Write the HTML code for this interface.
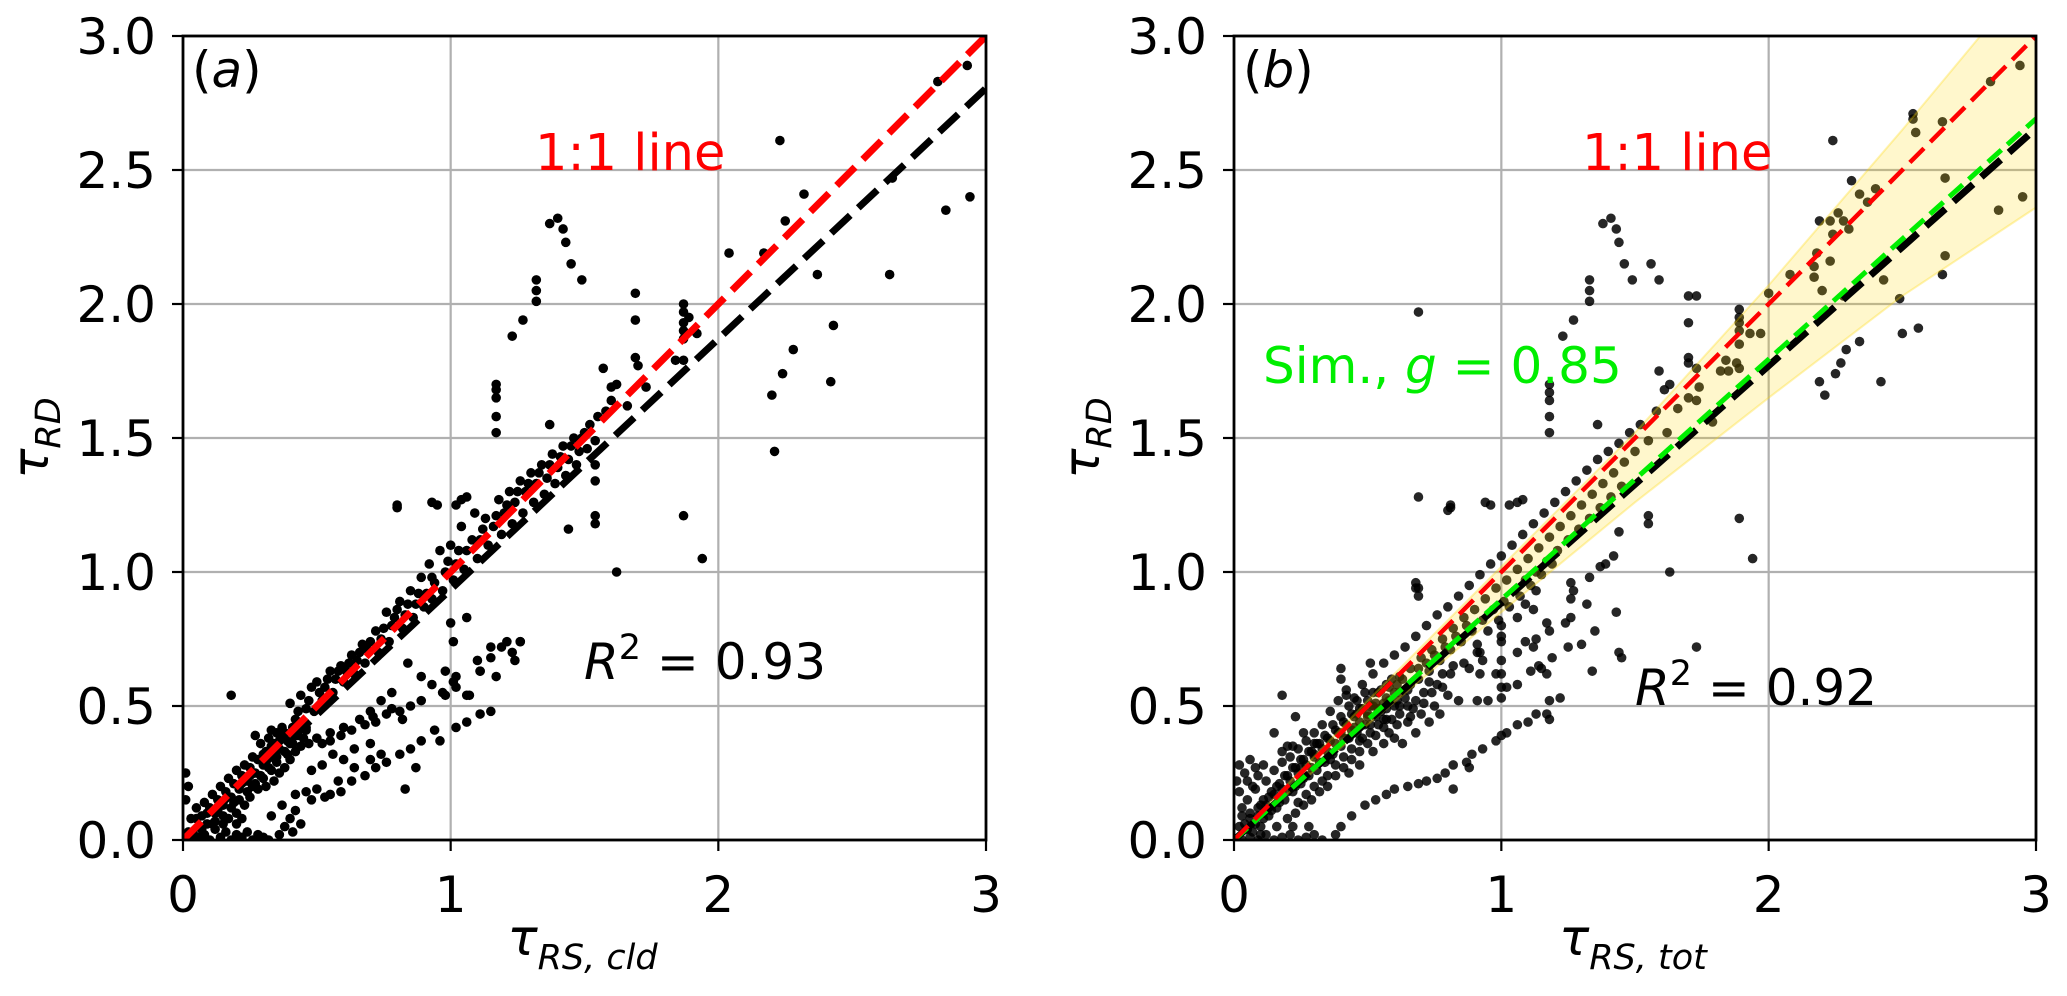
<!DOCTYPE html>
<html><head><meta charset="utf-8">
<style>
html,body{margin:0;padding:0;background:#fff;}
svg{display:block;font-family:"DejaVu Sans","Liberation Sans",sans-serif;}
</style></head>
<body>
<svg id="fig" width="2067" height="996" viewBox="0 0 2067 996" xmlns="http://www.w3.org/2000/svg"></svg>
<script>
// ---------- data ----------
const xTicks = [0, 1, 2, 3];
const yTicks = [0.0, 0.5, 1.0, 1.5, 2.0, 2.5, 3.0];
const xTickLabels = ["0", "1", "2", "3"];
const yTickLabels = ["0.0", "0.5", "1.0", "1.5", "2.0", "2.5", "3.0"];
const fitSlopeA = 0.935;
const fitSlopeB = 0.885;
const simSlopeB = 0.897;
const bandX = [0, 0.5, 1, 1.5, 2, 2.5, 3];
const bandLo = [0, 0.43, 0.85, 1.26, 1.65, 2.03, 2.36];
const bandHi = [0, 0.52, 1.02, 1.52, 2.07, 2.65, 3.25];

const outliersA = [[2.93,2.89],[2.82,2.83],[2.23,2.61],[2.65,2.47],[2.32,2.41],[2.25,2.31],[2.94,2.40],[2.85,2.35],[2.04,2.19],[2.17,2.19],[2.37,2.11],[2.64,2.11],[2.43,1.92],[2.28,1.83],[2.24,1.74],[2.42,1.71],[2.20,1.66],[2.21,1.45],[1.37,2.30],[1.40,2.32],[1.42,2.28],[1.43,2.23],[1.45,2.15],[1.49,2.09],[1.32,2.09],[1.32,2.05],[1.32,2.01],[1.27,1.94],[1.23,1.88],[1.69,2.04],[1.69,1.94],[1.69,1.80],[1.70,1.77],[1.57,1.76],[1.62,1.70],[1.60,1.69],[1.73,1.69],[1.66,1.62],[1.37,1.55],[1.17,1.70],[1.17,1.68],[1.17,1.65],[1.17,1.58],[1.17,1.52],[1.87,2.00],[1.87,1.97],[1.87,1.93],[1.87,1.90],[1.87,1.87],[1.89,1.95],[1.92,1.89],[1.84,1.79],[1.87,1.79],[1.44,1.16],[1.54,1.21],[1.54,1.18],[1.54,1.40],[1.54,1.34],[1.87,1.21],[1.94,1.05],[1.62,1.00],[0.80,1.25],[0.80,1.24],[0.93,1.26],[0.95,1.25],[1.02,1.25],[1.06,1.28],[1.04,1.27],[1.00,0.81],[1.06,0.83],[1.01,0.74],[1.21,0.74],[1.26,0.74],[1.15,0.72],[1.23,0.70],[0.84,0.66],[0.89,0.61],[1.10,0.67],[1.11,0.63],[1.17,0.61],[1.02,0.61],[1.01,0.59],[0.97,0.55],[1.07,0.54],[0.18,0.54]];
const bandPtsA = [[0.02,0.03],[0.03,0.08],[0.04,0.02],[0.05,0.12],[0.06,0.05],[0.07,0.09],[0.08,0.14],[0.09,0.06],[0.10,0.12],[0.11,0.17],[0.12,0.10],[0.13,0.15],[0.14,0.20],[0.15,0.13],[0.16,0.18],[0.17,0.23],[0.18,0.16],[0.19,0.21],[0.20,0.26],[0.21,0.19],[0.22,0.24],[0.23,0.28],[0.24,0.22],[0.25,0.27],[0.26,0.31],[0.27,0.25],[0.28,0.30],[0.29,0.36],[0.30,0.28],[0.31,0.33],[0.32,0.38],[0.33,0.31],[0.34,0.36],[0.35,0.40],[0.36,0.34],[0.37,0.39],[0.38,0.40],[0.39,0.37],[0.40,0.51],[0.41,0.42],[0.42,0.45],[0.44,0.54],[0.45,0.44],[0.46,0.49],[0.48,0.57],[0.49,0.48],[0.50,0.59],[0.52,0.52],[0.53,0.57],[0.55,0.63],[0.56,0.55],[0.57,0.60],[0.59,0.65],[0.60,0.59],[0.61,0.63],[0.63,0.69],[0.64,0.62],[0.65,0.67],[0.67,0.73],[0.68,0.66],[0.69,0.71],[0.72,0.78],[0.73,0.70],[0.74,0.75],[0.76,0.85],[0.77,0.74],[0.78,0.80],[0.80,0.86],[0.81,0.89],[0.82,0.79],[0.83,0.84],[0.85,0.93],[0.86,0.83],[0.87,0.88],[0.89,0.98],[0.90,0.87],[0.91,0.92],[0.92,1.03],[0.93,0.90],[0.94,0.96],[0.96,1.08],[0.97,0.93],[0.98,1.00],[1.00,1.10],[1.01,0.97],[1.02,1.03],[1.04,1.17],[1.05,1.01],[1.06,1.08],[1.09,1.22],[1.10,1.05],[1.11,1.12],[1.13,1.20],[1.14,1.10],[1.16,1.17],[1.18,1.27],[1.19,1.14],[1.20,1.22],[1.22,1.30],[1.23,1.18],[1.24,1.26],[1.26,1.34],[1.27,1.22],[1.28,1.30],[1.30,1.37],[1.31,1.26],[1.32,1.33],[1.34,1.40],[1.35,1.29],[1.36,1.35],[1.38,1.44],[1.39,1.33],[1.40,1.39],[1.42,1.47],[1.43,1.36],[1.44,1.42],[1.46,1.50],[1.47,1.40],[1.48,1.45],[1.50,1.52],[1.51,1.46],[1.52,1.55],[1.54,1.49],[1.55,1.58],[1.58,1.60],[1.60,1.64],[0.01,0.25],[0.02,0.20],[0.01,0.15],[0.03,0.00],[0.06,0.01],[0.08,0.02],[0.10,0.00],[0.12,0.04],[0.14,0.01],[0.16,0.03],[0.18,0.00],[0.20,0.02],[0.22,0.01],[0.24,0.03],[0.26,0.00],[0.28,0.02],[0.30,0.01],[0.32,0.00],[0.17,0.08],[0.20,0.10],[0.23,0.13],[0.19,0.14],[0.25,0.16],[0.28,0.19],[0.31,0.20],[0.34,0.22],[0.36,0.25],[0.38,0.27],[0.40,0.30],[0.42,0.33],[0.27,0.21],[0.30,0.23],[0.33,0.26],[0.35,0.29],[0.39,0.32],[0.44,0.35],[0.47,0.36],[0.20,0.06],[0.22,0.08],[0.15,0.06],[0.12,0.07]];
const extraA = [[0.05,0.08],[0.07,0.04],[0.09,0.10],[0.11,0.06],[0.13,0.11],[0.15,0.09],[0.18,0.12],[0.21,0.15],[0.24,0.18],[0.26,0.20],[0.29,0.24],[0.32,0.27],[0.35,0.31],[0.38,0.33],[0.41,0.36],[0.43,0.39],[0.46,0.42],[0.36,0.37],[0.33,0.35],[0.30,0.32],[0.43,0.48],[0.47,0.52],[0.51,0.55],[0.54,0.60],[0.58,0.63],[0.62,0.66],[0.66,0.70],[0.70,0.74],[0.75,0.79],[0.79,0.83],[0.84,0.88],[0.88,0.92],[0.93,0.98],[0.99,1.04],[1.03,1.08],[1.08,1.12],[1.12,1.16],[1.17,1.21],[1.21,1.25],[1.25,1.30],[1.29,1.33],[1.33,1.37],[1.37,1.40],[1.41,1.43],[1.45,1.47],[1.49,1.50],[0.55,0.40],[0.60,0.42],[0.66,0.45],[0.71,0.46],[0.78,0.49],[0.52,0.36],[0.45,0.38],[0.40,0.36],[0.64,0.27],[0.70,0.30],[0.74,0.32],[0.58,0.22],[0.48,0.15],[0.53,0.16],[0.40,0.08],[0.42,0.11]];
const branchA = [[0.27,0.39],[0.33,0.41],[0.37,0.42],[0.42,0.39],[0.46,0.41],[0.50,0.38],[0.55,0.37],[0.59,0.39],[0.63,0.41],[0.68,0.43],[0.72,0.44],[0.76,0.47],[0.81,0.48],[0.85,0.50],[0.89,0.52],[0.94,0.41],[0.98,0.54],[1.02,0.57],[1.06,0.54],[1.11,0.63],[1.15,0.68],[1.19,0.72],[1.24,0.67],[1.26,0.74],[0.33,0.09],[0.37,0.13],[0.42,0.17],[0.46,0.18],[0.50,0.19],[0.55,0.17],[0.59,0.18],[0.63,0.22],[0.68,0.24],[0.72,0.27],[0.76,0.29],[0.81,0.32],[0.85,0.34],[0.89,0.37],[0.96,0.37],[1.02,0.42],[1.06,0.44],[1.11,0.47],[1.15,0.48],[0.83,0.19],[0.87,0.27],[0.38,0.05],[0.41,0.03],[0.44,0.06],[0.36,0.02],[0.60,0.30],[0.64,0.34],[0.70,0.36],[0.52,0.28],[0.56,0.32],[0.48,0.26],[0.74,0.52],[0.78,0.55],[0.70,0.48],[0.82,0.45],[0.93,0.58],[0.98,0.63]];
const outliersB = [[2.94,2.89],[2.83,2.83],[2.54,2.71],[2.54,2.69],[2.65,2.68],[2.55,2.64],[2.24,2.61],[2.31,2.46],[2.66,2.47],[2.40,2.43],[2.34,2.41],[2.37,2.38],[2.19,2.31],[2.23,2.31],[2.26,2.34],[2.28,2.31],[2.30,2.28],[2.95,2.40],[2.86,2.35],[2.24,2.26],[2.18,2.19],[2.17,2.14],[2.17,2.10],[2.23,2.16],[2.66,2.18],[2.65,2.11],[2.43,2.09],[2.08,2.11],[2.20,2.05],[2.28,2.03],[2.49,2.02],[2.00,2.04],[1.56,2.15],[1.59,2.09],[1.70,2.03],[1.73,2.03],[1.70,1.93],[1.89,1.98],[1.89,1.95],[1.89,1.93],[1.89,1.90],[1.89,1.85],[1.93,1.89],[1.97,1.89],[1.70,1.80],[1.70,1.78],[1.84,1.79],[1.88,1.78],[1.82,1.75],[1.85,1.75],[1.89,1.76],[2.50,1.89],[2.56,1.91],[2.34,1.86],[2.29,1.83],[2.27,1.78],[2.25,1.74],[2.19,1.71],[2.21,1.66],[2.42,1.71],[1.59,1.75],[1.63,1.70],[1.61,1.68],[1.73,1.76],[1.74,1.69],[1.70,1.65],[1.73,1.64],[1.66,1.61],[1.79,1.56],[0.69,1.97],[0.69,1.28],[0.81,1.25],[0.81,1.24],[0.94,1.26],[0.96,1.25],[1.03,1.25],[1.06,1.26],[1.08,1.27],[0.69,0.94],[0.69,0.91],[0.51,0.66],[0.40,0.64],[0.40,0.60],[0.42,0.54],[1.18,1.70],[1.18,1.67],[1.18,1.64],[1.18,1.58],[1.18,1.52],[1.27,1.94],[1.23,1.88],[1.33,2.09],[1.33,2.05],[1.33,2.01],[1.36,1.55],[1.38,2.30],[1.41,2.32],[1.43,2.28],[1.44,2.23],[1.46,2.15],[1.49,2.09],[0.80,1.23],[0.68,0.96],[0.68,0.94],[1.55,1.21],[1.55,1.18],[1.44,1.15],[1.89,1.20],[1.94,1.05],[1.63,1.00],[1.42,1.06],[1.39,1.03],[1.37,1.02],[1.33,0.98],[1.26,0.96],[1.27,0.93],[1.13,0.93],[1.09,0.88],[1.26,0.90],[1.32,0.88],[1.12,0.86],[1.06,0.83],[1.43,0.85],[1.17,0.81],[1.24,0.81],[1.26,0.83],[1.35,0.78],[1.18,0.78],[1.13,0.75],[1.09,0.74],[1.12,0.72],[1.00,0.80],[1.00,0.76],[1.00,0.74],[0.91,0.73],[0.92,0.70],[1.06,0.70],[1.14,0.65],[1.19,0.68],[1.25,0.72],[1.30,0.73],[1.44,0.70],[1.45,0.68],[1.73,0.72],[1.34,0.63],[1.17,0.62],[1.11,0.63],[1.15,0.64],[1.00,0.67],[1.00,0.62],[1.00,0.57],[1.00,0.53],[1.06,0.58],[1.02,0.57],[0.98,0.62],[0.92,0.62],[0.88,0.64],[0.93,0.67],[0.78,0.62],[0.82,0.65],[1.22,0.53],[1.18,0.52],[0.84,0.52],[0.91,0.52],[0.95,0.52],[0.78,0.57],[0.73,0.59],[0.80,0.54],[1.18,0.45],[1.17,0.47],[1.13,0.47],[1.10,0.44],[1.06,0.43],[1.02,0.40],[1.00,0.39],[0.98,0.37],[0.93,0.34],[0.89,0.32],[0.87,0.29],[0.82,0.28],[0.79,0.25],[0.76,0.23],[0.72,0.22],[0.69,0.21],[0.65,0.20],[0.60,0.19],[0.57,0.17],[0.53,0.15],[0.49,0.13],[0.44,0.09],[0.40,0.05],[0.38,0.02],[0.88,0.27],[0.82,0.19],[0.18,0.54],[0.23,0.46],[0.15,0.40],[0.20,0.35]];
const densePtsB = [[0.01,0.22],[0.02,0.18],[0.03,0.12],[0.04,0.06],[0.05,0.15],[0.06,0.10],[0.07,0.03],[0.08,0.19],[0.09,0.12],[0.10,0.05],[0.11,0.15],[0.12,0.22],[0.13,0.09],[0.14,0.18],[0.15,0.26],[0.16,0.12],[0.17,0.21],[0.18,0.29],[0.19,0.15],[0.20,0.24],[0.21,0.31],[0.22,0.18],[0.23,0.27],[0.24,0.34],[0.25,0.21],[0.26,0.30],[0.27,0.37],[0.28,0.24],[0.29,0.33],[0.30,0.40],[0.31,0.26],[0.32,0.36],[0.33,0.43],[0.34,0.29],[0.35,0.38],[0.36,0.48],[0.37,0.32],[0.38,0.41],[0.39,0.52],[0.40,0.35],[0.41,0.44],[0.42,0.56],[0.43,0.38],[0.44,0.47],[0.45,0.53],[0.46,0.40],[0.47,0.49],[0.48,0.58],[0.49,0.43],[0.50,0.52],[0.52,0.62],[0.53,0.46],[0.54,0.55],[0.56,0.66],[0.57,0.49],[0.58,0.57],[0.60,0.69],[0.61,0.52],[0.62,0.61],[0.64,0.72],[0.65,0.56],[0.66,0.64],[0.68,0.76],[0.69,0.60],[0.70,0.68],[0.72,0.80],[0.73,0.63],[0.74,0.71],[0.76,0.84],[0.77,0.67],[0.78,0.75],[0.80,0.87],[0.81,0.71],[0.82,0.79],[0.84,0.91],[0.85,0.74],[0.86,0.83],[0.88,0.95],[0.89,0.78],[0.90,0.86],[0.92,0.99],[0.93,0.82],[0.94,0.90],[0.96,1.03],[0.97,0.86],[0.98,0.94],[1.00,1.06],[1.01,0.89],[1.02,0.97],[1.04,1.10],[1.05,0.93],[1.06,1.01],[1.08,1.14],[1.09,0.97],[1.10,1.05],[1.12,1.18],[1.13,1.00],[1.14,1.09],[1.16,1.22],[1.17,1.04],[1.18,1.13],[1.20,1.26],[1.21,1.08],[1.22,1.17],[1.24,1.30],[1.25,1.12],[1.26,1.21],[1.28,1.34],[1.29,1.16],[1.30,1.25],[1.32,1.38],[1.33,1.20],[1.34,1.29],[1.36,1.42],[1.37,1.24],[1.38,1.33],[1.40,1.45],[1.41,1.28],[1.42,1.37],[1.44,1.48],[1.45,1.32],[1.46,1.41],[1.48,1.52],[1.50,1.45],[1.52,1.55],[1.55,1.49],[1.58,1.60],[1.62,1.52],[0.03,0.00],[0.06,0.01],[0.09,0.00],[0.12,0.02],[0.15,0.00],[0.18,0.01],[0.21,0.02],[0.24,0.00],[0.27,0.01],[0.30,0.02],[0.33,0.00],[0.20,0.08],[0.23,0.10],[0.26,0.13],[0.29,0.15],[0.32,0.18],[0.35,0.20],[0.38,0.24],[0.41,0.27],[0.44,0.30],[0.47,0.33],[0.50,0.36],[0.53,0.39],[0.56,0.42],[0.59,0.45],[0.62,0.47],[0.65,0.50],[0.68,0.52],[0.71,0.55],[0.45,0.42],[0.50,0.46],[0.55,0.48],[0.60,0.50],[0.65,0.44],[0.70,0.47],[0.75,0.50],[0.40,0.40],[0.48,0.38],[0.58,0.40],[0.63,0.36],[0.68,0.40],[0.52,0.50],[0.57,0.53],[0.62,0.55],[0.43,0.25],[0.47,0.28],[0.36,0.30],[0.30,0.32],[0.25,0.27],[0.02,0.28],[0.04,0.25],[0.06,0.30],[0.08,0.27]];
const extraB = [[0.02,0.05],[0.03,0.09],[0.05,0.04],[0.06,0.08],[0.08,0.06],[0.09,0.09],[0.10,0.13],[0.11,0.08],[0.12,0.13],[0.13,0.16],[0.14,0.11],[0.15,0.17],[0.16,0.20],[0.17,0.14],[0.18,0.19],[0.19,0.24],[0.20,0.18],[0.21,0.22],[0.22,0.27],[0.23,0.20],[0.24,0.25],[0.25,0.30],[0.26,0.23],[0.27,0.28],[0.28,0.33],[0.29,0.27],[0.30,0.31],[0.31,0.36],[0.32,0.29],[0.33,0.34],[0.34,0.39],[0.35,0.33],[0.36,0.37],[0.37,0.43],[0.38,0.36],[0.39,0.40],[0.40,0.46],[0.41,0.38],[0.42,0.43],[0.43,0.50],[0.44,0.41],[0.45,0.46],[0.46,0.52],[0.47,0.44],[0.48,0.49],[0.49,0.55],[0.50,0.47],[0.51,0.50],[0.52,0.55],[0.53,0.51],[0.54,0.49],[0.55,0.56],[0.56,0.51],[0.57,0.58],[0.58,0.52],[0.59,0.60],[0.60,0.55],[0.61,0.58],[0.62,0.50],[0.63,0.60],[0.64,0.53],[0.66,0.58],[0.67,0.49],[0.69,0.64],[0.71,0.51],[0.72,0.66],[0.74,0.55],[0.75,0.69],[0.76,0.58],[0.79,0.72],[0.81,0.62],[0.83,0.76],[0.86,0.66],[0.87,0.80],[0.91,0.70],[0.95,0.78],[0.99,0.82],[1.03,0.87],[1.07,0.91],[1.11,0.95],[1.15,0.99],[1.19,1.03],[0.35,0.24],[0.38,0.28],[0.41,0.31],[0.44,0.34],[0.47,0.37],[0.51,0.40],[0.54,0.43],[0.57,0.45],[0.46,0.47],[0.51,0.43],[0.56,0.45],[0.61,0.43],[0.66,0.46],[0.73,0.44],[0.77,0.47],[0.52,0.33],[0.56,0.36],[0.60,0.38],[0.30,0.36],[0.26,0.40],[0.22,0.35],[0.18,0.33],[0.24,0.14],[0.27,0.17],[0.30,0.20],[0.33,0.22],[0.07,0.20],[0.09,0.24],[0.11,0.28],[0.05,0.22],[0.10,0.02],[0.16,0.05],[0.22,0.05],[0.28,0.05]];

// ---------- layout ----------
const AX = {y0:840, y3:36};
const panels = [
  {id:'a', x0:183, x3:986, xlabelSub:'RS, cld', pts:[outliersA, bandPtsA, extraA, branchA], r2:'0.93', r2x:584, r2y:679, lineX:535, pointOpacity:1},
  {id:'b', x0:1234, x3:2036, xlabelSub:'RS, tot', pts:[outliersB, densePtsB, extraB], r2:'0.92', r2x:1635, r2y:705, lineX:1582, pointOpacity:0.85}
];
const NS = 'http://www.w3.org/2000/svg';
const svg = document.getElementById('fig');
function mk(tag, attrs, parent){
  const e = document.createElementNS(NS, tag);
  for (const k in attrs) e.setAttribute(k, attrs[k]);
  (parent||svg).appendChild(e);
  return e;
}
const FS = 50;

panels.forEach(p => {
  const sx = v => p.x0 + (p.x3 - p.x0) * v / 3;
  const sy = v => AX.y0 - (AX.y0 - AX.y3) * v / 3;
  const g = mk('g', {});
  
  
  const clipId = 'clip-' + p.id;
  const cp = mk('clipPath', {id: clipId}, g);
  mk('rect', {x:p.x0, y:AX.y3, width:p.x3-p.x0, height:AX.y0-AX.y3}, cp);

  xTicks.forEach(t => {
    const l = mk('line', {x1:sx(t), x2:sx(t), y1:AX.y3, y2:AX.y0, stroke:'#b0b0b0', 'stroke-width':2.2}, g);
    
    
  });
  yTicks.forEach(t => {
    const l = mk('line', {x1:p.x0, x2:p.x3, y1:sy(t), y2:sy(t), stroke:'#b0b0b0', 'stroke-width':2.2}, g);
    
    
  });

  const plot = mk('g', {'clip-path': 'url(#' + clipId + ')'}, g);
  const pg = mk('g', {fill:'#000', 'fill-opacity':p.pointOpacity}, plot);
  
  
  p.pts.forEach(arr => arr.forEach(d => {
    const c = mk('circle', {cx:sx(d[0]), cy:sy(d[1]), r:4.8}, pg);
    
    
  }));

  if (p.id === 'a') {
    const fit = mk('line', {x1:sx(0), y1:sy(0), x2:sx(3), y2:sy(3*fitSlopeA), stroke:'#000', 'stroke-width':7, 'stroke-dasharray':'26 11'}, plot);
    
    
    const one = mk('line', {x1:sx(0), y1:sy(0), x2:sx(3), y2:sy(3), stroke:'#ff0000', 'stroke-width':7, 'stroke-dasharray':'26 11'}, plot);
    
    
  } else {
    let d = 'M' + bandX.map((x,i) => sx(x) + ',' + sy(bandHi[i])).join(' L');
    d += ' L' + bandX.slice().reverse().map((x,i) => sx(x) + ',' + sy(bandLo[bandX.length-1-i])).join(' L') + ' Z';
    const band = mk('path', {d:d, fill:'rgba(255,215,0,0.2)', stroke:'rgba(255,215,0,0.3)', 'stroke-width':2}, plot);
    
    
    const fit = mk('line', {x1:sx(0), y1:sy(0), x2:sx(3), y2:sy(3*fitSlopeB), stroke:'#000', 'stroke-width':7, 'stroke-dasharray':'26 11'}, plot);
    
    
    const sim = mk('line', {x1:sx(0), y1:sy(0), x2:sx(3), y2:sy(3*simSlopeB), stroke:'#00ee00', 'stroke-width':5, 'stroke-dasharray':'18 8'}, plot);
    
    
    const one = mk('line', {x1:sx(0), y1:sy(0), x2:sx(3), y2:sy(3), stroke:'#ff0000', 'stroke-width':4.5, 'stroke-dasharray':'20 9'}, plot);
    
    
  }

  const sp = mk('rect', {x:p.x0, y:AX.y3, width:p.x3-p.x0, height:AX.y0-AX.y3, fill:'none', stroke:'#000', 'stroke-width':2.8}, g);
  
  

  xTicks.forEach((t,i) => {
    const tk = mk('line', {x1:sx(t), x2:sx(t), y1:AX.y0, y2:AX.y0+11, stroke:'#000', 'stroke-width':2.2}, g);
    
    
    const tx = mk('text', {x:sx(t), y:912, 'text-anchor':'middle', 'font-size':FS}, g);
    tx.textContent = xTickLabels[i];
    
    
  });
  yTicks.forEach((t,i) => {
    const tk = mk('line', {x1:p.x0-11, x2:p.x0, y1:sy(t), y2:sy(t), stroke:'#000', 'stroke-width':2.2}, g);
    
    
    const tx = mk('text', {x:p.x0-27, y:sy(t)+18, 'text-anchor':'end', 'font-size':FS}, g);
    tx.textContent = yTickLabels[i];
    
    
  });

  const xl = mk('text', {x:(p.x0+p.x3)/2 - 2, y:955, 'text-anchor':'middle', 'font-size':FS}, g);
  
  
  const t1 = mk('tspan', {'font-style':'italic'}, xl); t1.textContent = 'τ';
  const t2 = mk('tspan', {'font-style':'italic', 'font-size':35, dy:14}, xl); t2.textContent = p.xlabelSub;

  const yx = p.x0 - 135;
  const yl = mk('text', {x:0, y:0, 'text-anchor':'middle', 'font-size':FS, transform:'translate(' + yx + ',438) rotate(-90)'}, g);
  
  
  const y1 = mk('tspan', {'font-style':'italic'}, yl); y1.textContent = 'τ';
  const y2 = mk('tspan', {'font-style':'italic', 'font-size':35, dy:12}, yl); y2.textContent = 'RD';

  const tag = mk('text', {x:p.x0+9, y:87, 'font-size':FS}, g);
  
  
  const a1 = mk('tspan', {}, tag); a1.textContent = '(';
  const a2 = mk('tspan', {'font-style':'italic'}, tag); a2.textContent = p.id;
  const a3 = mk('tspan', {}, tag); a3.textContent = ')';

  const oa = mk('text', {x:p.lineX, y:170, 'font-size':51, fill:'#ff0000'}, g);
  oa.textContent = '1:1 line';
  
  

  const r = mk('text', {x:p.r2x, y:p.r2y, 'font-size':FS}, g);
  
  
  const r1 = mk('tspan', {'font-style':'italic'}, r); r1.textContent = 'R';
  const r2 = mk('tspan', {'font-size':35, dy:-20}, r); r2.textContent = '2';
  const r3 = mk('tspan', {dy:20}, r); r3.textContent = ' = ' + p.r2;

  if (p.id === 'b') {
    const s = mk('text', {x:1263, y:383, 'font-size':FS, fill:'#00ee00'}, g);
    
    
    const s1 = mk('tspan', {}, s); s1.textContent = 'Sim., ';
    const s2 = mk('tspan', {'font-style':'italic'}, s); s2.textContent = 'g';
    const s3 = mk('tspan', {}, s); s3.textContent = ' = 0.85';
  }
});
</script>
</body></html>
